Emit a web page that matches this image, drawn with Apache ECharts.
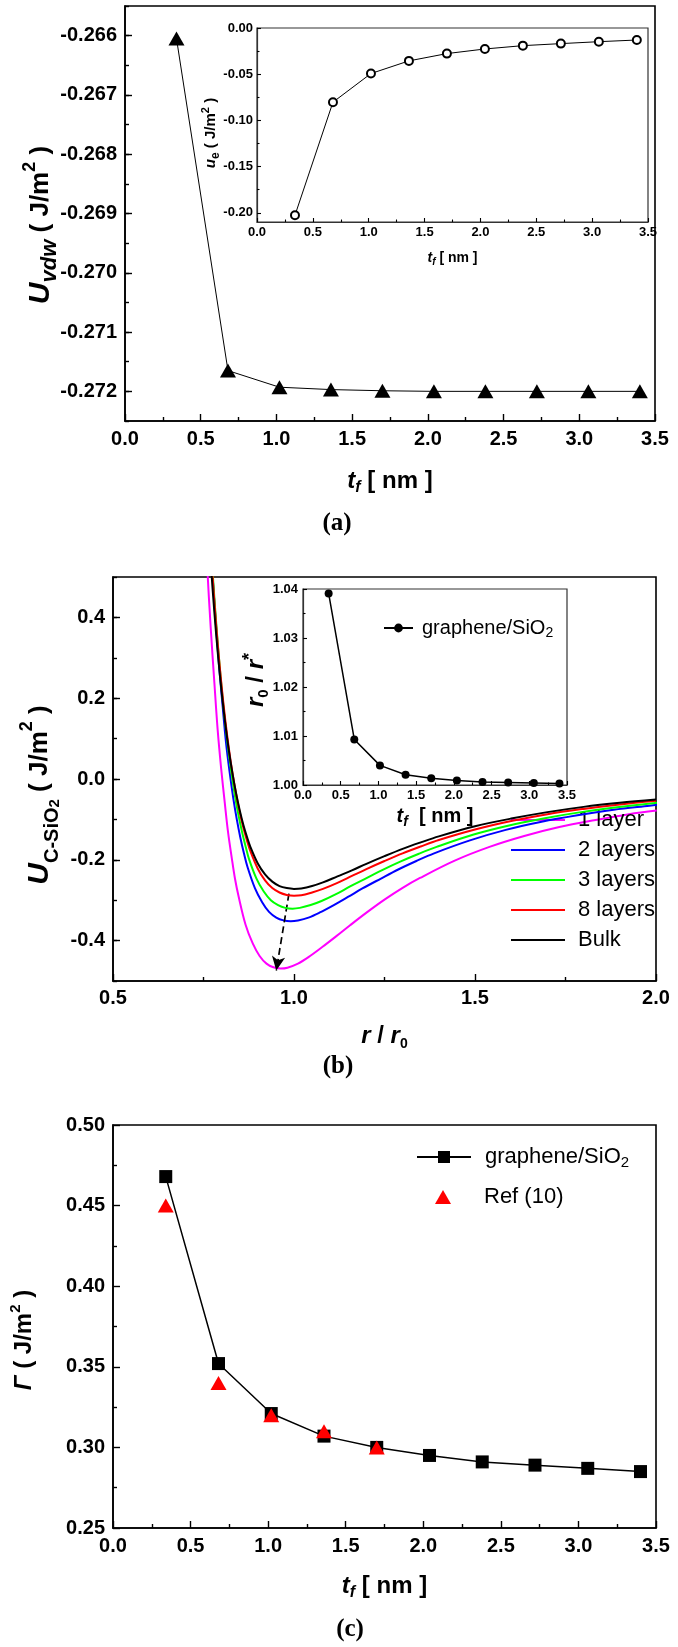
<!DOCTYPE html>
<html>
<head>
<meta charset="utf-8">
<script src="https://cdn.jsdelivr.net/npm/echarts@6/dist/echarts.min.js"></script>
<style>
html,body{margin:0;padding:0;background:#fff;}
#chart{width:678px;height:1647px;}
</style>
</head>
<body>
<div id="chart"></div>
<script>
// ---------------- data ----------------
// panel (a)
const tfNm = [0.34, 0.68, 1.02, 1.36, 1.70, 2.04, 2.38, 2.72, 3.06, 3.40];
const uVdw = [-0.26605, -0.27165, -0.27193, -0.27197, -0.27199, -0.27200, -0.27200, -0.27200, -0.27200, -0.27200];
const uE = [-0.2027, -0.0803, -0.0493, -0.0356, -0.0277, -0.0227, -0.0191, -0.0169, -0.0148, -0.0130];
const aYTicks = [-0.272, -0.271, -0.270, -0.269, -0.268, -0.267, -0.266];
const aInsetYTicks = [0, -0.05, -0.10, -0.15, -0.20];
const aInsetYMinor = [-0.025, -0.075, -0.125, -0.175];

// panel (b): potential curves, r/r0 and U (J/m^2)
const r1 = [0.751,0.760,0.770,0.780,0.789,0.799,0.809,0.818,0.828,0.837,0.847,0.866,0.886,0.905,0.924,0.943,0.963,0.982,1.011,1.040,1.078,1.117,1.155,1.203,1.251,1.299,1.348,1.444,1.540,1.636,1.733,1.829,1.925,2.002];
const u1 = [0.712,0.530,0.373,0.239,0.123,0.024,-0.061,-0.133,-0.195,-0.247,-0.291,-0.360,-0.407,-0.438,-0.457,-0.466,-0.469,-0.467,-0.457,-0.441,-0.416,-0.389,-0.362,-0.329,-0.298,-0.270,-0.245,-0.202,-0.168,-0.141,-0.119,-0.102,-0.087,-0.078];
const r2 = [0.753,0.763,0.773,0.783,0.793,0.803,0.812,0.822,0.832,0.842,0.852,0.862,0.872,0.892,0.912,0.931,0.951,0.971,0.991,1.011,1.040,1.070,1.110,1.149,1.189,1.239,1.288,1.338,1.387,1.486,1.585,1.684,1.783,1.883,1.982,2.061];
const u2 = [0.878,0.693,0.534,0.398,0.280,0.179,0.092,0.018,-0.046,-0.100,-0.146,-0.185,-0.219,-0.270,-0.305,-0.329,-0.343,-0.350,-0.352,-0.350,-0.343,-0.331,-0.312,-0.292,-0.271,-0.247,-0.224,-0.203,-0.184,-0.152,-0.126,-0.106,-0.090,-0.076,-0.066,-0.058];
const r3 = [0.757,0.767,0.777,0.787,0.797,0.807,0.817,0.827,0.837,0.847,0.857,0.867,0.876,0.896,0.916,0.936,0.956,0.976,0.996,1.016,1.046,1.076,1.116,1.155,1.195,1.245,1.295,1.345,1.394,1.494,1.594,1.693,1.793,1.892,1.992,2.072];
const u3 = [0.800,0.632,0.487,0.363,0.255,0.163,0.084,0.016,-0.042,-0.091,-0.133,-0.169,-0.199,-0.246,-0.278,-0.300,-0.312,-0.319,-0.321,-0.319,-0.312,-0.302,-0.285,-0.266,-0.248,-0.225,-0.204,-0.185,-0.168,-0.138,-0.115,-0.097,-0.082,-0.070,-0.060,-0.053];
const rBulk = [0.76,0.77,0.78,0.79,0.80,0.81,0.82,0.83,0.84,0.85,0.86,0.87,0.88,0.90,0.92,0.94,0.96,0.98,1.00,1.02,1.05,1.08,1.12,1.16,1.20,1.25,1.30,1.35,1.40,1.50,1.60,1.70,1.80,1.90,2.00];
const u8 = [0.721,0.569,0.439,0.326,0.230,0.147,0.076,0.015,-0.037,-0.082,-0.120,-0.152,-0.180,-0.222,-0.251,-0.270,-0.281,-0.287,-0.289,-0.288,-0.281,-0.272,-0.257,-0.240,-0.223,-0.203,-0.184,-0.167,-0.151,-0.125,-0.104,-0.087,-0.074,-0.063,-0.054];
const uBulk = [0.678,0.536,0.413,0.307,0.216,0.138,0.071,0.014,-0.035,-0.077,-0.113,-0.143,-0.169,-0.209,-0.236,-0.254,-0.265,-0.270,-0.272,-0.271,-0.265,-0.256,-0.241,-0.226,-0.210,-0.191,-0.173,-0.157,-0.142,-0.117,-0.098,-0.082,-0.069,-0.059,-0.051];
const bYTicks = [-0.4, -0.2, 0, 0.2, 0.4];
const arrowStart = [0.986, -0.284];
const arrowEnd = [0.951, -0.474];
const r0OverRstar = [1.0391, 1.0093, 1.0040, 1.0021, 1.0014, 1.0009, 1.0006, 1.0005, 1.0004, 1.0003];

// panel (c)
const gammaGraphene = [0.468, 0.352, 0.321, 0.307, 0.300, 0.295, 0.291, 0.289, 0.287, 0.285];
const refTf = [0.34, 0.68, 1.02, 1.36, 1.70];
const gammaRef10 = [0.450, 0.340, 0.320, 0.310, 0.300];

const layerNames = ['1 layer', '2 layers', '3 layers', '8 layers', 'Bulk'];
const layerColors = ['#ff00ff', '#0000ff', '#00ff00', '#ff0000', '#000000'];

// ---------------- helpers ----------------
const FF = "'Liberation Sans', Arial, Helvetica, sans-serif";
const SERIF = "'Liberation Serif', 'Times New Roman', serif";
const pairs = (xs, ys) => xs.map((x, i) => [x, ys[i]]);

function axis(o) {
  const tick = {show: o.tick > 0, inside: true, length: o.tick || 0,
    lineStyle: {color: '#000', width: o.tw || 1.4}};
  if (o.tickValues) tick.customValues = o.tickValues;
  let label;
  if (o.labels === false) label = {show: false};
  else {
    label = {show: true, color: '#000', fontFamily: FF, fontWeight: 'bold', fontSize: o.fs,
      margin: o.margin, showMinLabel: true, showMaxLabel: true, hideOverlap: false, formatter: o.fmt};
    if (o.labelValues) label.customValues = o.labelValues;
  }
  const a = {
    type: 'value', gridIndex: o.grid, min: o.min, max: o.max, position: o.position,
    axisLine: {show: o.line !== false, onZero: false, lineStyle: {color: o.lc || '#000', width: o.lw || 1.6}},
    axisTick: tick,
    minorTick: {show: !!o.minor, splitNumber: 2, length: o.minor || 0, lineStyle: {color: '#000', width: o.tw || 1.4}},
    splitLine: {show: false}, minorSplitLine: {show: false},
    axisLabel: label,
    name: o.name || '', nameLocation: 'middle', nameGap: o.nameGap || 0, nameMoveOverlap: false,
    nameTextStyle: {color: '#000', fontFamily: FF, rich: o.rich || {}},
    silent: true
  };
  if (o.interval != null) a.interval = o.interval;
  return a;
}
const f1 = v => v.toFixed(1);
const f2 = v => v.toFixed(2);
function richSet(main, sub, sup, lh) {
  return {
    i: {fontSize: main, fontWeight: 'bold', fontStyle: 'italic', fontFamily: FF, lineHeight: lh, verticalAlign: 'middle', fill: '#000', color: '#000'},
    n: {fontSize: main, fontWeight: 'bold', fontFamily: FF, lineHeight: lh, verticalAlign: 'middle', fill: '#000', color: '#000'},
    s: {fontSize: sub, fontWeight: 'bold', fontStyle: 'italic', fontFamily: FF, lineHeight: sub, verticalAlign: 'bottom', fill: '#000', color: '#000'},
    sn: {fontSize: sub, fontWeight: 'bold', fontFamily: FF, lineHeight: sub, verticalAlign: 'bottom', fill: '#000', color: '#000'},
    p: {fontSize: sup, fontWeight: 'bold', fontFamily: FF, lineHeight: sup, verticalAlign: 'top', fill: '#000', color: '#000'}
  };
}

const gridBase = {show: true, borderColor: '#000', borderWidth: 1.6, backgroundColor: 'transparent',
  containLabel: false, outerBoundsMode: 'none'};
const grids = [
  Object.assign({}, gridBase, {left: 125, top: 6, width: 530, height: 415}),
  Object.assign({}, gridBase, {left: 257, top: 28, width: 391, height: 194, borderWidth: 1.2, borderColor: '#333', backgroundColor: '#fff'}),
  Object.assign({}, gridBase, {left: 113, top: 577, width: 543, height: 404}),
  Object.assign({}, gridBase, {left: 303, top: 589, width: 264, height: 196, borderWidth: 1.2, borderColor: '#333', backgroundColor: '#fff'}),
  Object.assign({}, gridBase, {left: 113, top: 1125, width: 543, height: 403})
];

const richA_y = {
  U: {fontSize: 30, fontWeight: 'bold', fontStyle: 'italic', fontFamily: FF, lineHeight: 40, verticalAlign: 'middle', fill: '#000'},
  s: {fontSize: 22, fontWeight: 'bold', fontStyle: 'italic', fontFamily: FF, lineHeight: 22, verticalAlign: 'bottom', fill: '#000'},
  n: {fontSize: 26, fontWeight: 'bold', fontFamily: FF, lineHeight: 40, verticalAlign: 'middle', fill: '#000'},
  p: {fontSize: 18, fontWeight: 'bold', fontFamily: FF, lineHeight: 18, verticalAlign: 'top', fill: '#000'}
};
const richB_y = {
  U: {fontSize: 30, fontWeight: 'bold', fontStyle: 'italic', fontFamily: FF, lineHeight: 44, verticalAlign: 'middle', fill: '#000'},
  s: {fontSize: 20, fontWeight: 'bold', fontFamily: FF, lineHeight: 26, verticalAlign: 'bottom', fill: '#000'},
  ss: {fontSize: 15, fontWeight: 'bold', fontFamily: FF, lineHeight: 15, verticalAlign: 'bottom', fill: '#000'},
  n: {fontSize: 26, fontWeight: 'bold', fontFamily: FF, lineHeight: 44, verticalAlign: 'middle', fill: '#000'},
  p: {fontSize: 18, fontWeight: 'bold', fontFamily: FF, lineHeight: 18, verticalAlign: 'top', fill: '#000'}
};

const xAxes = [
  axis({grid: 0, min: 0, max: 3.5, interval: 0.5, position: 'bottom', tick: 7, minor: 4, fs: 20, margin: 8, fmt: f1,
    name: '{i|t}{s|f}{n| [ nm ]}', nameGap: 45, rich: richSet(24, 16, 16, 30)}),
  axis({grid: 1, min: 0, max: 3.5, interval: 0.5, position: 'bottom', tick: 4, minor: 2.5, tw: 1.1, lw: 1.2, lc: '#333', fs: 13, margin: 4, fmt: f1,
    name: '{i|t}{s|f}{n| [ nm ]}', nameGap: 27, rich: richSet(14, 10, 10, 18)}),
  axis({grid: 2, min: 0.5, max: 2.0, interval: 0.5, position: 'bottom', tick: 7, minor: 4, fs: 20, margin: 7, fmt: f1,
    name: '{i|r}{n| / }{i|r}{sn|0}', nameGap: 40, rich: richSet(24, 14, 14, 30)}),
  axis({grid: 3, min: 0, max: 3.5, interval: 0.5, position: 'bottom', tick: 4, minor: 2.5, tw: 1.1, lw: 1.2, lc: '#333', fs: 13, margin: 4, fmt: f1,
    name: '{i|t}{s|f}{n|  [ nm ]}', nameGap: 18, rich: richSet(20, 14, 14, 26)}),
  axis({grid: 4, min: 0, max: 3.5, interval: 0.5, position: 'bottom', tick: 7, minor: 4, fs: 20, margin: 8, fmt: f1,
    name: '{i|t}{s|f}{n| [ nm ]}', nameGap: 43, rich: richSet(24, 16, 16, 30)})
];

const yAxes = [
  // 0: panel (a) main, half-step ticks + labels
  axis({grid: 0, min: -0.2725, max: -0.2655, interval: 0.0005, position: 'left', tick: 4, fs: 20, margin: 8,
    fmt: v => { const k = v * 1000; return Math.abs(k - Math.round(k)) < 1e-6 ? v.toFixed(3) : ''; }}),
  // 1: panel (a) major ticks
  axis({grid: 0, min: -0.2725, max: -0.2655, position: 'left', tick: 7, tickValues: aYTicks, labels: false, line: false}),
  // 2: inset (a)
  axis({grid: 1, min: -0.21, max: 0, position: 'left', tick: 4, tw: 1.1, lw: 1.2, lc: '#333', tickValues: aInsetYTicks, labelValues: aInsetYTicks,
    fs: 13, margin: 4, fmt: f2}),
  // 3: inset (a) minor ticks
  axis({grid: 1, min: -0.21, max: 0, position: 'left', tick: 2.5, tw: 1.1, tickValues: aInsetYMinor, labels: false, line: false}),
  // 4: panel (b) main
  axis({grid: 2, min: -0.5, max: 0.5, interval: 0.1, position: 'left', tick: 4, fs: 20, margin: 8,
    fmt: v => (Math.round(v * 10) % 2 === 0 ? v.toFixed(1) : '')}),
  // 5: panel (b) major ticks
  axis({grid: 2, min: -0.5, max: 0.5, position: 'left', tick: 7, tickValues: bYTicks, labels: false, line: false}),
  // 6: inset (b)
  axis({grid: 3, min: 1.00, max: 1.04, interval: 0.01, position: 'left', tick: 4, minor: 2.5, tw: 1.1, lw: 1.2, lc: '#333', fs: 13, margin: 5, fmt: f2}),
  // 7: panel (c)
  axis({grid: 4, min: 0.25, max: 0.50, interval: 0.05, position: 'left', tick: 7, minor: 4, fs: 20, margin: 8, fmt: f2})
];

const bSeries = [[r1, u1], [r2, u2], [r3, u3], [rBulk, u8], [rBulk, uBulk]].map((d, i) => {
  const s = {
    type: 'line', name: layerNames[i], xAxisIndex: 2, yAxisIndex: 4, data: pairs(d[0], d[1]),
    symbol: 'none', smooth: 0.35, clip: true,
    lineStyle: {color: layerColors[i], width: 2}, itemStyle: {color: layerColors[i]}, z: 3 + i
  };
  if (i === 0) {
    s.markLine = {
      silent: true, animation: false, symbol: ['none', 'arrow'], symbolSize: [10, 14],
      label: {show: false}, lineStyle: {type: [7, 4], color: '#000', width: 1.7},
      data: [[{coord: arrowStart}, {coord: arrowEnd}]]
    };
  }
  return s;
});

const legendRichG = (main, sub, lh) => ({
  a: {fontSize: main, fontFamily: FF, color: '#000', lineHeight: lh, verticalAlign: 'middle'},
  b: {fontSize: sub, fontFamily: FF, color: '#000', lineHeight: sub, verticalAlign: 'bottom'}
});

// rotated y-axis titles (rich text, centred at the given point)
function yTitle(x, y, text, rich) {
  return {type: 'text', x: x, y: y, rotation: Math.PI / 2, silent: true, z: 10,
    style: {text: text, rich: rich, fill: '#000', font: 'bold 20px ' + FF,
      align: 'center', verticalAlign: 'middle', textAlign: 'center', textVerticalAlign: 'middle'}};
}
function panelLabel(x, y, t) {
  return {type: 'text', x: x, y: y, silent: true,
    style: {text: t, font: 'bold 25px ' + SERIF, fill: '#000', align: 'center', verticalAlign: 'middle', textAlign: 'center', textVerticalAlign: 'middle'}};
}

const option = {
  animation: false,
  backgroundColor: '#fff',
  grid: grids,
  xAxis: xAxes,
  yAxis: yAxes,
  legend: [
    {data: layerNames, orient: 'vertical', left: 511, top: 809, padding: 0, itemWidth: 54, itemHeight: 2, icon: 'rect',
      itemGap: 8, selectedMode: false,
      textStyle: {fontFamily: FF, fontSize: 22, color: '#000', padding: [0, 0, 0, 8]}},
    {data: ['graphene/SiO2 inset'], left: 383, top: 618, padding: 0, itemWidth: 29, itemHeight: 11, selectedMode: false,
      formatter: () => '{a|graphene/SiO}{b|2}',
      textStyle: {padding: [0, 0, 0, 4], rich: legendRichG(20, 14, 24)}},
    {data: ['graphene/SiO2'], left: 416, top: 1146, padding: 0, itemWidth: 54, itemHeight: 15, selectedMode: false,
      formatter: () => '{a|graphene/SiO}{b|2}',
      textStyle: {padding: [0, 0, 0, 9], rich: legendRichG(22, 15, 26)}},
    {data: ['Ref (10)'], left: 435, top: 1184, padding: 0, itemWidth: 16, itemHeight: 14, selectedMode: false,
      itemStyle: {opacity: 1},
      textStyle: {fontFamily: FF, fontSize: 22, color: '#000', lineHeight: 26, padding: [0, 0, 0, 28]}}
  ],
  series: [
    {type: 'line', name: 'Uvdw', xAxisIndex: 0, yAxisIndex: 0, data: pairs(tfNm, uVdw),
      symbol: 'triangle', symbolSize: [16, 14], showAllSymbol: true,
      itemStyle: {color: '#000'}, lineStyle: {color: '#000', width: 1}, z: 3},
    {type: 'line', name: 'ue', xAxisIndex: 1, yAxisIndex: 2, data: pairs(tfNm, uE),
      symbol: 'emptyCircle', symbolSize: 8, showAllSymbol: true,
      itemStyle: {color: '#000', borderColor: '#000', borderWidth: 1}, lineStyle: {color: '#000', width: 1}, z: 3},
    ...bSeries,
    {type: 'line', name: 'graphene/SiO2 inset', xAxisIndex: 3, yAxisIndex: 6, data: pairs(tfNm, r0OverRstar),
      symbol: 'circle', symbolSize: 8, showAllSymbol: true,
      itemStyle: {color: '#000'}, lineStyle: {color: '#000', width: 1.5}, z: 3},
    {type: 'line', name: 'graphene/SiO2', xAxisIndex: 4, yAxisIndex: 7, data: pairs(tfNm, gammaGraphene),
      symbol: 'rect', symbolSize: 13, showAllSymbol: true,
      itemStyle: {color: '#000'}, lineStyle: {color: '#000', width: 1.5}, z: 3},
    {type: 'scatter', name: 'Ref (10)', xAxisIndex: 4, yAxisIndex: 7, data: pairs(refTf, gammaRef10),
      symbol: 'triangle', symbolSize: [16, 14], itemStyle: {color: '#ff0000', opacity: 1}, z: 4}
  ],
  graphic: [
    yTitle(41, 225, '{U|U}{s|vdw}{n| ( J/m}{p|2}{n| )}', richA_y),
    yTitle(211, 133, '{i|u}{sn|e}{n| ( J/m}{p|2}{n| )}', richSet(15, 12, 11, 22)),
    yTitle(40, 795, '{U|U}{s|C-SiO}{ss|2}{n| ( J/m}{p|2}{n| )}', richB_y),
    yTitle(256, 680, '{i|r}{sn|0}{n| / }{i|r}{p|*}', richSet(24, 15, 18, 30)),
    yTitle(24, 1340, '{i|Γ}{n| ( J/m}{p|2}{n| )}', richSet(24, 15, 15, 32)),
    panelLabel(337, 524, '(a)'),
    panelLabel(338, 1067, '(b)'),
    panelLabel(350, 1630, '(c)')
  ]
};

const chart = echarts.init(document.getElementById('chart'), null, {renderer: 'canvas', width: 678, height: 1647});
chart.setOption(option);
</script>
</body>
</html>
